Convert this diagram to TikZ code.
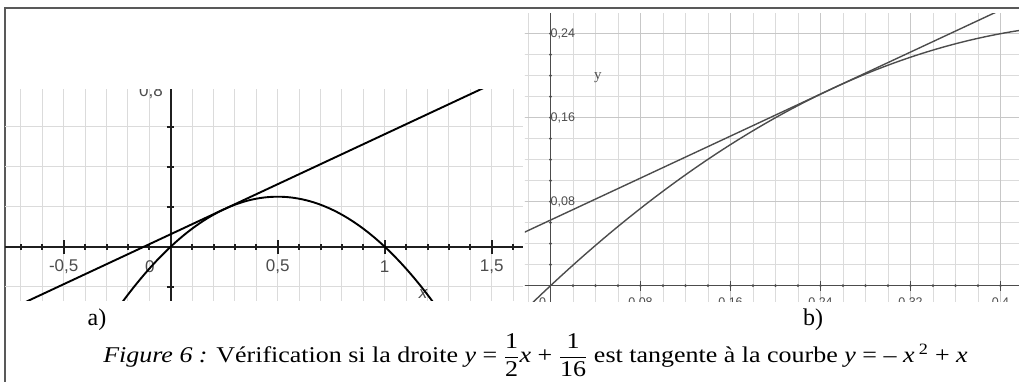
\documentclass[tikz,border=0pt]{standalone}
\usepackage{amsmath}
\usepackage{fontspec}
\setmainfont{Liberation Serif}
\setsansfont{Liberation Sans}

\definecolor{gridlight}{gray}{0.86}
\definecolor{gridmajor}{gray}{0.78}
\definecolor{inkdark}{gray}{0.12}
\definecolor{inkmid}{gray}{0.30}

% fraction set in the text font, as in the caption
\newcommand{\capfrac}[2]{\ensuremath{\displaystyle\frac{\text{#1}}{\text{#2}}}}

\begin{document}
\begin{tikzpicture}[x=1pt, y=-1pt, >=stealth,
    framestyle/.style={line width=1.8pt, gray!70!black},
    gridA/.style={gridlight, line width=0.9pt},
    gridB/.style={gridlight, line width=0.7pt},
    gridBmajor/.style={gridmajor, line width=0.9pt},
    axisA/.style={line width=2pt, inkdark},
    axisB/.style={line width=1.4pt, inkmid},
    curveA/.style={line width=1.9pt, black},
    curveB/.style={line width=1.4pt, inkmid},
    numA/.style={font=\sffamily\fontsize{17}{17}\selectfont, inkmid, inner sep=0pt},
    numB/.style={font=\sffamily\fontsize{12.5}{12.5}\selectfont, inkmid, inner sep=0pt},
    panelname/.style={font=\fontsize{24}{24}\selectfont, inner sep=0pt}]
  \useasboundingbox (0,0) rectangle (1019,382);

  % Frame of the figure (only its top and left sides are in the crop)
  \draw[framestyle] (5,382) -- (5,8) -- (1019,8);

  % ---------------- a) the whole parabola and its tangent ----------------
  \begin{scope}[shift={(170.7,246.7)}, x=214pt, y=200pt]
    \clip (-0.774,-0.267) rectangle (1.646,0.788);

    % grid: 0.1 in x, 0.2 in y
    \foreach \gx in {-7,...,16}
        \draw[gridA] (\gx/10,-0.3) -- (\gx/10,0.8);
    \foreach \gy in {-1,...,3}
        \draw[gridA] (-0.8,\gy/5) -- (1.7,\gy/5);

    % axes with their ticks
    \draw[axisA] (-0.8,0) -- (1.7,0);
    \draw[axisA] (0,-0.3) -- (0,0.8);
    \foreach \tx in {-7,...,16}
        \draw[axisA] (\tx/10,0) ++(0,-3pt) -- ++(0,6pt);
    \foreach \tx in {-5,5,10,15}
        \draw[axisA] (\tx/10,0) ++(0,-7pt) -- ++(0,14pt);
    \foreach \ty in {-1,1,2,3}
        \draw[axisA] (0,\ty/5) ++(-3.5pt,0) -- ++(7pt,0);

    % numbers on the axes
    \node[numA] (ticka-m05) at (-0.5,-0.1) {-0,5};
    \node[numA] (ticka-0) at (-0.097,-0.1) {0};
    \node[numA] (ticka-05) at (0.5,-0.1) {0,5};
    \node[numA] (ticka-1) at (1,-0.1) {1};
    \node[numA] (ticka-15) at (1.5,-0.1) {1,5};
    \node[numA, anchor=east] (ticka-08) at (-0.036,0.773) {0,8};
    \node[numA] (namex) at (1.179,-0.235) {\itshape x};

    % y = -x^2 + x and the line y = x/2 + 1/16
    \draw[curveA] plot[domain=-0.3:1.3, samples=90] (\x,{-\x*\x+\x});
    \draw[curveA] (-0.8,-0.3375) -- (1.7,0.9125);
  \end{scope}

  % ---------------- b) close-up around the point of contact ----------------
  \begin{scope}[shift={(550.5,285.7)}, x=1125pt, y=1050pt]
    \clip (-0.0227,-0.0150) rectangle (0.4165,0.2597);

    % grid: 0.02 steps, stronger every 0.08
    \foreach \gx in {-1,...,21}
        \draw[gridB] (\gx/50,-0.02) -- (\gx/50,0.27);
    \foreach \gy in {0,...,13}
        \draw[gridB] (-0.03,\gy/50) -- (0.42,\gy/50);
    \foreach \gx in {1,...,5}
        \draw[gridBmajor] (\gx*0.08,-0.02) -- (\gx*0.08,0.27);
    \foreach \gy in {1,2,3}
        \draw[gridBmajor] (-0.03,\gy*0.08) -- (0.42,\gy*0.08);

    % axes with their ticks
    \draw[axisB] (-0.03,0) -- (0.42,0);
    \draw[axisB] (0,-0.02) -- (0,0.27);
    \foreach \tx in {1,...,20}
        \fill[inkmid] (\tx/50,0) circle (1.5pt);
    \foreach \ty in {1,...,12}
        \fill[inkmid] (0,\ty/50) circle (1.5pt);
    \foreach \tx in {1,...,5}
        \draw[axisB] (\tx*0.08,0) ++(0,-5pt) -- ++(0,10pt);

    % numbers on the axes
    \node[numB, anchor=west] (tickb-024) at (0,0.24) {0,24};
    \node[numB, anchor=west] (tickb-016) at (0,0.16) {0,16};
    \node[numB, anchor=west] (tickb-008) at (0,0.08) {0,08};
    \node[numB, anchor=north] (tickb-0) at (-0.007,-0.011) {0};
    \node[numB, anchor=north] (tickb-x008) at (0.08,-0.011) {0,08};
    \node[numB, anchor=north] (tickb-x016) at (0.16,-0.011) {0,16};
    \node[numB, anchor=north] (tickb-x024) at (0.24,-0.011) {0,24};
    \node[numB, anchor=north] (tickb-x032) at (0.32,-0.011) {0,32};
    \node[numB, anchor=north] (tickb-x04) at (0.40,-0.011) {0,4};
    \node[font=\fontsize{15}{15}\selectfont, inkmid] (namey) at (0.042,0.198) {y};

    % same two curves, zoomed in
    \draw[curveB] plot[domain=-0.03:0.42, samples=60] (\x,{-\x*\x+\x});
    \draw[curveB] (-0.03,0.0475) -- (0.42,0.2725);
  \end{scope}

  % Panel names and caption
  \node[panelname] (name-a) at (97,320) {a)};
  \node[panelname] (name-b) at (813,320) {b)};
  \node[font=\fontsize{22.5}{22.5}\selectfont, inner sep=0pt,
        xscale=1.155, transform shape] (caption) at (535.5,355)
    {\textit{Figure 6 :} Vérification si la droite \textit{y} =
     \capfrac{1}{2}\textit{x} + \capfrac{1}{16} est tangente à la courbe
     \textit{y} = – \textit{x}\,\textsuperscript{2} + \textit{x}};
\end{tikzpicture}
\end{document}
